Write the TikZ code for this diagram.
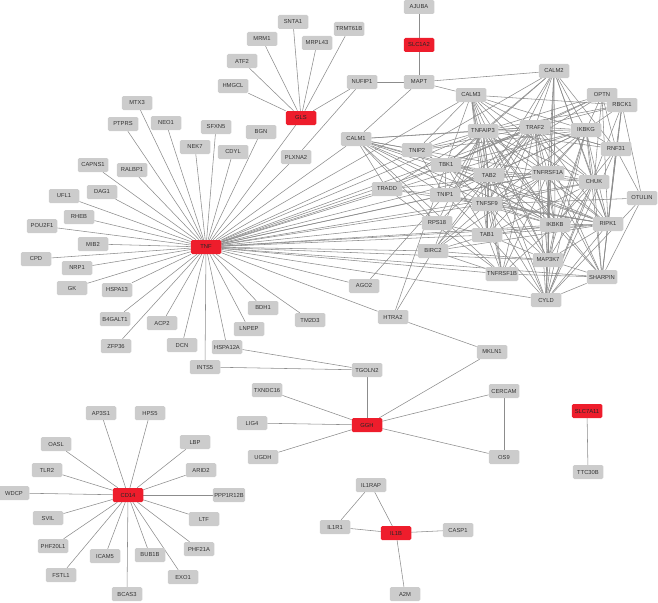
\documentclass[tikz,border=0pt]{standalone}
\usepackage{fontspec}
\setsansfont{Liberation Sans}
\usetikzlibrary{backgrounds}

\definecolor{genegrey}{HTML}{CCCCCC}
\definecolor{genered}{HTML}{EE1D2C}
\definecolor{linkgrey}{HTML}{8C8C8C}

\begin{document}
\begin{tikzpicture}[
  x=1pt, y=-1pt,
  font=\sffamily\fontsize{5.8}{6}\selectfont,
  gene/.style={rectangle, rounded corners=1.5pt, fill=genegrey,
               minimum width=30.5pt, minimum height=14pt,
               inner xsep=1.5pt, inner ysep=0pt, text=black!80},
  gene-hit/.style={gene, fill=genered, text=black!85},
  link/.style={draw=linkgrey, line width=0.55pt}
]
  \useasboundingbox (0,0) rectangle (658,602);

  % ===========================================================
  % HUB GENES (red)
  % ===========================================================
  \node[gene-hit] (GLS)     at (301,118) {GLS};
  \node[gene-hit] (SLC1A2)  at (419, 45) {SLC1A2};
  \node[gene-hit] (TNF)     at (206,247) {TNF};
  \node[gene-hit] (GGH)     at (367,425) {GGH};
  \node[gene-hit] (CD14)    at (128,495) {CD14};
  \node[gene-hit] (IL1B)    at (396,533) {IL1B};
  \node[gene-hit] (SLC7A11) at (587,411) {SLC7A11};

  % GLS neighbours
  \node[gene] (SNTA1)   at (293, 22) {SNTA1};
  \node[gene] (TRMT61B) at (349, 29) {TRMT61B};
  \node[gene] (MRM1)    at (262, 39) {MRM1};
  \node[gene] (MRPL43)  at (317, 43) {MRPL43};
  \node[gene] (ATF2)    at (242, 61) {ATF2};
  \node[gene] (HMGCL)   at (233, 86) {HMGCL};
  \node[gene] (NUFIP1)  at (362, 82) {NUFIP1};

  % TNF neighbours, left half
  \node[gene] (MTX3)    at (137,103) {MTX3};
  \node[gene] (PTPRS)   at (123,124) {PTPRS};
  \node[gene] (NEO1)    at (166,123) {NEO1};
  \node[gene] (SFXN5)   at (216,127) {SFXN5};
  \node[gene] (BGN)     at (261,132) {BGN};
  \node[gene] (NEK7)    at (195,147) {NEK7};
  \node[gene] (CDYL)    at (233,152) {CDYL};
  \node[gene] (PLXNA2)  at (296,157) {PLXNA2};
  \node[gene] (CAPNS1)  at ( 93,165) {CAPNS1};
  \node[gene] (RALBP1)  at (132,170) {RALBP1};
  \node[gene] (UFL1)    at ( 64,196) {UFL1};
  \node[gene] (DAG1)    at (102,192) {DAG1};
  \node[gene] (RHEB)    at ( 79,217) {RHEB};
  \node[gene] (POU2F1)  at ( 42,226) {POU2F1};
  \node[gene] (MIB2)    at ( 93,244) {MIB2};
  \node[gene] (CPD)     at ( 36,259) {CPD};
  \node[gene] (NRP1)    at ( 77,268) {NRP1};
  \node[gene] (GK)      at ( 72,288) {GK};
  \node[gene] (HSPA13)  at (117,290) {HSPA13};
  \node[gene] (B4GALT1) at (115,319) {B4GALT1};
  \node[gene] (ACP2)    at (162,323) {ACP2};
  \node[gene] (ZFP36)   at (116,346) {ZFP36};
  \node[gene] (DCN)     at (182,345) {DCN};
  \node[gene] (HSPA12A) at (227,347) {HSPA12A};
  \node[gene] (INTS5)   at (205,367) {INTS5};
  \node[gene] (LNPEP)   at (249,329) {LNPEP};
  \node[gene] (BDH1)    at (263,308) {BDH1};
  \node[gene] (TM2D3)   at (310,320) {TM2D3};
  \node[gene] (AGO2)    at (364,286) {AGO2};
  \node[gene] (HTRA2)   at (393,317) {HTRA2};

  % dense cluster on the right
  \node[gene] (AJUBA)    at (419,  7) {AJUBA};
  \node[gene] (MAPT)     at (419, 82) {MAPT};
  \node[gene] (CALM2)    at (554, 71) {CALM2};
  \node[gene] (CALM3)    at (471, 95) {CALM3};
  \node[gene] (OPTN)     at (602, 95) {OPTN};
  \node[gene] (RBCK1)    at (622,105) {RBCK1};
  \node[gene] (TNFAIP3)  at (483,131) {TNFAIP3};
  \node[gene] (TRAF2)    at (535,127) {TRAF2};
  \node[gene] (IKBKG)    at (586,130) {IKBKG};
  \node[gene] (RNF31)    at (616,149) {RNF31};
  \node[gene] (CALM1)    at (356,139) {CALM1};
  \node[gene] (TNIP2)    at (417,150) {TNIP2};
  \node[gene] (TBK1)     at (446,165) {TBK1};
  \node[gene] (TAB2)     at (489,175) {TAB2};
  \node[gene] (TNFRSF1A) at (548,173) {TNFRSF1A};
  \node[gene] (CHUK)     at (594,182) {CHUK};
  \node[gene] (OTULIN)   at (642,198) {OTULIN};
  \node[gene] (TRADD)    at (387,189) {TRADD};
  \node[gene] (TNIP1)    at (445,195) {TNIP1};
  \node[gene] (TNFSF9)   at (487,204) {TNFSF9};
  \node[gene] (RPS18)    at (437,223) {RPS18};
  \node[gene] (IKBKB)    at (555,225) {IKBKB};
  \node[gene] (RIPK1)    at (608,224) {RIPK1};
  \node[gene] (TAB1)     at (487,235) {TAB1};
  \node[gene] (BIRC2)    at (433,251) {BIRC2};
  \node[gene] (MAP3K7)   at (548,260) {MAP3K7};
  \node[gene] (TNFRSF1B) at (502,274) {TNFRSF1B};
  \node[gene] (SHARPIN)  at (602,277) {SHARPIN};
  \node[gene] (CYLD)     at (546,300) {CYLD};

  % GGH / IL1B / SLC7A11 groups
  \node[gene] (MKLN1)   at (492,352) {MKLN1};
  \node[gene] (TGOLN2)  at (367,370) {TGOLN2};
  \node[gene] (TXNDC16) at (267,390) {TXNDC16};
  \node[gene] (CERCAM)  at (504,391) {CERCAM};
  \node[gene] (LIG4)    at (252,423) {LIG4};
  \node[gene] (UGDH)    at (263,457) {UGDH};
  \node[gene] (OS9)     at (504,457) {OS9};
  \node[gene] (TTC30B)  at (588,472) {TTC30B};
  \node[gene] (IL1RAP)  at (371,485) {IL1RAP};
  \node[gene] (IL1R1)   at (335,527) {IL1R1};
  \node[gene] (CASP1)   at (458,530) {CASP1};
  \node[gene] (A2M)     at (405,594) {A2M};

  % CD14 neighbours
  \node[gene] (AP3S1)    at (101,413) {AP3S1};
  \node[gene] (HPS5)     at (150,413) {HPS5};
  \node[gene] (OASL)     at ( 56,444) {OASL};
  \node[gene] (LBP)      at (195,442) {LBP};
  \node[gene] (TLR2)     at ( 47,470) {TLR2};
  \node[gene] (ARID2)    at (201,470) {ARID2};
  \node[gene] (WDCP)     at ( 14,493) {WDCP};
  \node[gene] (PPP1R12B) at (229,495) {PPP1R12B};
  \node[gene] (SVIL)     at ( 48,518) {SVIL};
  \node[gene] (LTF)      at (204,519) {LTF};
  \node[gene] (PHF20L1)  at ( 53,546) {PHF20L1};
  \node[gene] (ICAM5)    at (105,556) {ICAM5};
  \node[gene] (BUB1B)    at (150,555) {BUB1B};
  \node[gene] (PHF21A)   at (199,549) {PHF21A};
  \node[gene] (FSTL1)    at ( 61,575) {FSTL1};
  \node[gene] (EXO1)     at (183,577) {EXO1};
  \node[gene] (BCAS3)    at (127,594) {BCAS3};

  % ===========================================================
  % INTERACTIONS (behind the boxes)
  % ===========================================================
  \begin{pgfonlayer}{background}
  % stars round the hubs
  \path[link] (GLS) edge (SNTA1) edge (TRMT61B) edge (MRM1) edge (MRPL43)
    edge (ATF2) edge (HMGCL) edge (NUFIP1) edge (TNF);
  \path[link] (SLC1A2) edge (AJUBA) edge (MAPT);
  \path[link] (TNF) edge (MTX3) edge (PTPRS) edge (NEO1) edge (SFXN5)
    edge (BGN) edge (NEK7) edge (CDYL) edge (PLXNA2) edge (CAPNS1)
    edge (RALBP1) edge (UFL1) edge (DAG1) edge (RHEB) edge (POU2F1)
    edge (MIB2) edge (CPD) edge (NRP1) edge (GK) edge (HSPA13)
    edge (B4GALT1) edge (ACP2) edge (ZFP36) edge (DCN) edge (HSPA12A)
    edge (INTS5) edge (LNPEP) edge (BDH1) edge (TM2D3) edge (AGO2)
    edge (HTRA2);
  \path[link] (TNF) edge (CALM1) edge (CALM3) edge (TNIP2) edge (TBK1)
    edge (TRADD) edge (TNIP1) edge (TNFAIP3) edge (TRAF2) edge (TAB2)
    edge (TNFRSF1A) edge (TNFSF9) edge (RPS18) edge (TAB1) edge (BIRC2)
    edge (IKBKB) edge (IKBKG) edge (CHUK) edge (RIPK1) edge (MAP3K7)
    edge (TNFRSF1B) edge (SHARPIN) edge (CYLD);
  \path[link] (GGH) edge (TGOLN2) edge (TXNDC16) edge (LIG4) edge (UGDH)
    edge (MKLN1) edge (CERCAM) edge (OS9);
  \path[link] (CD14) edge (AP3S1) edge (HPS5) edge (OASL) edge (LBP)
    edge (TLR2) edge (ARID2) edge (WDCP) edge (PPP1R12B) edge (SVIL)
    edge (LTF) edge (PHF20L1) edge (ICAM5) edge (BUB1B) edge (PHF21A)
    edge (FSTL1) edge (EXO1) edge (BCAS3);
  \path[link] (IL1B) edge (IL1RAP) edge (IL1R1) edge (CASP1) edge (A2M);
  \path[link] (SLC7A11) edge (TTC30B);

  % small links between groups
  \path[link] (IL1RAP) edge (IL1R1);
  \path[link] (CERCAM) edge (OS9);
  \path[link] (TGOLN2) edge (HSPA12A) edge (INTS5);
  \path[link] (HTRA2) edge (MKLN1) edge (BIRC2) edge (TBK1);
  \path[link] (AGO2) edge (TNIP1);
  \path[link] (NUFIP1) edge (MAPT) edge (PLXNA2);
  \path[link] (MAPT) edge (CALM2) edge (CALM3) edge (CALM1);

  % dense cluster
  \path[link] (CALM1) edge (TNFAIP3) edge (TRAF2) edge (TNIP2) edge (TBK1)
    edge (TRADD) edge (TAB2) edge (TNFRSF1A) edge (TNIP1) edge (TNFSF9)
    edge (RPS18) edge (IKBKB) edge (RIPK1) edge (TNFRSF1B);
  \path[link] (CALM2) edge (TNFAIP3) edge (TRAF2) edge (IKBKG) edge (TBK1)
    edge (TAB2) edge (TNFRSF1A) edge (IKBKB) edge (CHUK) edge (RIPK1)
    edge (MAP3K7) edge (CYLD) edge (TNIP2) edge (TNFSF9) edge (RNF31);
  \path[link] (CALM3) edge (TNFAIP3) edge (TRAF2) edge (TNIP2) edge (TBK1)
    edge (TAB2) edge (TNFSF9) edge (TAB1) edge (IKBKG) edge (RBCK1)
    edge (TNFRSF1A) edge (IKBKB) edge (CHUK) edge (MAP3K7) edge (TNFRSF1B);
  \path[link] (OPTN) edge (TRAF2) edge (TNFAIP3) edge (IKBKG) edge (TBK1)
    edge (RIPK1) edge (RNF31) edge (TNIP1) edge (CHUK);
  \path[link] (RBCK1) edge (RNF31) edge (SHARPIN) edge (OTULIN) edge (RIPK1)
    edge (IKBKG) edge (TRAF2) edge (TNFAIP3) edge (CYLD);
  \path[link] (RNF31) edge (OTULIN) edge (SHARPIN) edge (RIPK1) edge (IKBKG)
    edge (TRAF2) edge (TNFAIP3) edge (CYLD) edge (IKBKB);
  \path[link] (OTULIN) edge (TNFSF9) edge (CYLD) edge (SHARPIN);
  \path[link] (TNFAIP3) edge (TRAF2) edge (IKBKG) edge (TNIP2) edge (TBK1)
    edge (TNIP1) edge (TAB2) edge (TNFRSF1A) edge (IKBKB) edge (RIPK1)
    edge (CHUK) edge (MAP3K7) edge (CYLD) edge (TAB1) edge (SHARPIN)
    edge (TNFRSF1B) edge (BIRC2) edge (TRADD) edge (RPS18);
  \path[link] (TRAF2) edge (IKBKG) edge (TNIP2) edge (TBK1) edge (TAB2)
    edge (TNFRSF1A) edge (IKBKB) edge (CHUK) edge (RIPK1) edge (MAP3K7)
    edge (CYLD) edge (TAB1) edge (BIRC2) edge (TNFRSF1B) edge (TRADD)
    edge (TNFSF9) edge (SHARPIN) edge (TNIP1) edge (RNF31);
  \path[link] (IKBKG) edge (TBK1) edge (TNIP2) edge (TNIP1) edge (TNFRSF1A)
    edge (IKBKB) edge (CHUK) edge (RIPK1) edge (MAP3K7) edge (CYLD)
    edge (SHARPIN) edge (TAB2) edge (TNFSF9) edge (TAB1);
  \path[link] (TNIP2) edge (TBK1) edge (TNIP1) edge (IKBKB) edge (TAB2);
  \path[link] (TBK1) edge (TAB2) edge (TNFSF9) edge (IKBKB) edge (RIPK1)
    edge (TNIP1) edge (CHUK) edge (TAB1);
  \path[link] (TAB2) edge (TNFRSF1A) edge (TAB1) edge (MAP3K7) edge (IKBKB)
    edge (TNFSF9) edge (CHUK) edge (RIPK1) edge (BIRC2) edge (CYLD);
  \path[link] (TNFRSF1A) edge (TRADD) edge (RIPK1) edge (IKBKB) edge (CHUK)
    edge (MAP3K7) edge (CYLD) edge (TNFRSF1B) edge (TNFSF9) edge (SHARPIN)
    edge (BIRC2) edge (TNIP1);
  \path[link] (CHUK) edge (IKBKB) edge (RIPK1) edge (MAP3K7) edge (SHARPIN)
    edge (CYLD) edge (TNFSF9) edge (TAB1);
  \path[link] (TRADD) edge (RIPK1) edge (TNFRSF1B) edge (TNIP1);
  \path[link] (TNIP1) edge (RIPK1) edge (TNFSF9) edge (TAB1) edge (IKBKB);
  \path[link] (TNFSF9) edge (TNFRSF1B) edge (TAB1) edge (MAP3K7) edge (RIPK1)
    edge (BIRC2) edge (IKBKB) edge (CYLD);
  \path[link] (RPS18) edge (TAB1) edge (TAB2);
  \path[link] (IKBKB) edge (RIPK1) edge (MAP3K7) edge (CYLD) edge (SHARPIN)
    edge (TAB1) edge (TNFRSF1B);
  \path[link] (RIPK1) edge (MAP3K7) edge (CYLD) edge (SHARPIN) edge (BIRC2)
    edge (TAB1);
  \path[link] (TAB1) edge (MAP3K7) edge (BIRC2) edge (TNFRSF1B) edge (CYLD);
  \path[link] (BIRC2) edge (MAP3K7) edge (TNFRSF1B);
  \path[link] (MAP3K7) edge (CYLD) edge (SHARPIN);
  \path[link] (SHARPIN) edge (CYLD) edge (TNFRSF1B);
  \end{pgfonlayer}

\end{tikzpicture}
\end{document}
